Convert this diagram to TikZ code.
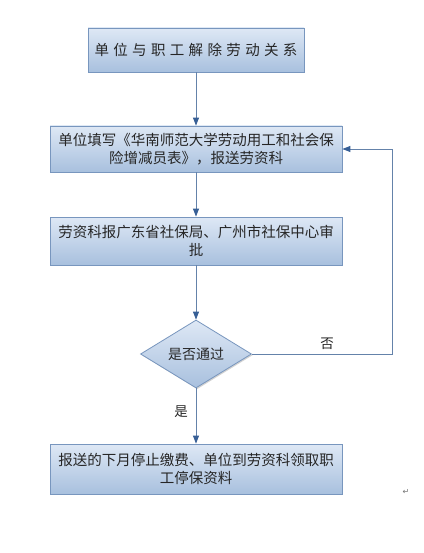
\documentclass[tikz,border=0pt]{standalone}
\usepackage{fontspec}
\newfontfamily\cjk{Noto Sans CJK SC}
\newfontfamily\cjkwide[LetterSpace=30]{Noto Sans CJK SC}
\newfontfamily\dejavu{DejaVu Sans}
\usetikzlibrary{shapes.geometric,arrows.meta,shadows}
\definecolor{boxtop}{RGB}{222,232,245}
\definecolor{boxbot}{RGB}{168,192,222}
\definecolor{boxline}{RGB}{120,150,190}
\definecolor{conn}{RGB}{100,130,170}
\definecolor{tipcol}{RGB}{55,95,150}
\tikzset{
  flowbox/.style={rectangle, draw=boxline, line width=0.8pt, top color=boxtop, bottom color=boxbot,
    inner sep=0pt, align=center, font=\cjk\fontsize{14.5}{18}\selectfont, text=black!85,
    drop shadow={shadow xshift=1.2pt, shadow yshift=-1.2pt, opacity=0.35, fill=black!50}},
  decision/.style={diamond, draw=boxline, line width=0.8pt, top color=boxtop, bottom color=boxbot,
    inner sep=0pt, shape aspect=1.63, minimum width=111pt, minimum height=68pt,
    font=\cjk\fontsize{14}{16}\selectfont, text=black!85,
    drop shadow={shadow xshift=1.2pt, shadow yshift=-1.2pt, opacity=0.35, fill=black!50}},
  conn/.style={draw=conn, line width=0.9pt, -{Triangle[length=8pt,width=6pt,color=tipcol]}},
  plainconn/.style={draw=conn, line width=0.9pt},
  lbl/.style={font=\cjk\fontsize{13.5}{15}\selectfont, text=black!85, inner sep=0pt}
}
\begin{document}
\begin{tikzpicture}[x=1pt,y=-1pt]
\useasboundingbox[fill=white] (0,0) rectangle (423,553);
\node[flowbox, minimum width=216pt, minimum height=44pt, font=\cjkwide\fontsize{14.5}{18}\selectfont] (b1) at (196,50) {单位与职工解除劳动关系};
\node[flowbox, minimum width=292pt, minimum height=46pt] (b2) at (196,149) {单位填写《华南师范大学劳动用工和社会保\\险增减员表》，报送劳资科};
\node[flowbox, minimum width=292pt, minimum height=48pt] (b3) at (196,241) {劳资科报广东省社保局、广州市社保中心审\\批};
\node[decision] (d) at (196,354) {是否通过};
\node[flowbox, minimum width=292pt, minimum height=50pt] (b4) at (196,469) {报送的下月停止缴费、单位到劳资科领取职\\工停保资料};
\coordinate (c1) at (392,354);
\coordinate (c2) at (392,149);
\draw[conn] (b1) -- (b2);
\draw[conn] (b2) -- (b3);
\draw[conn] (b3) -- (d);
\draw[conn] (d) -- (b4);
\draw[plainconn] (d.east) -- (c1) -- (c2);
\draw[conn] (c2) -- (b2.east);
\node[lbl] (no) at (327,344) {否};
\node[lbl] (yes) at (181,412) {是};
\node[font=\dejavu\fontsize{8}{9}\selectfont, text=black!55, inner sep=0pt] (pm) at (406,492) {↵};
\end{tikzpicture}
\end{document}
